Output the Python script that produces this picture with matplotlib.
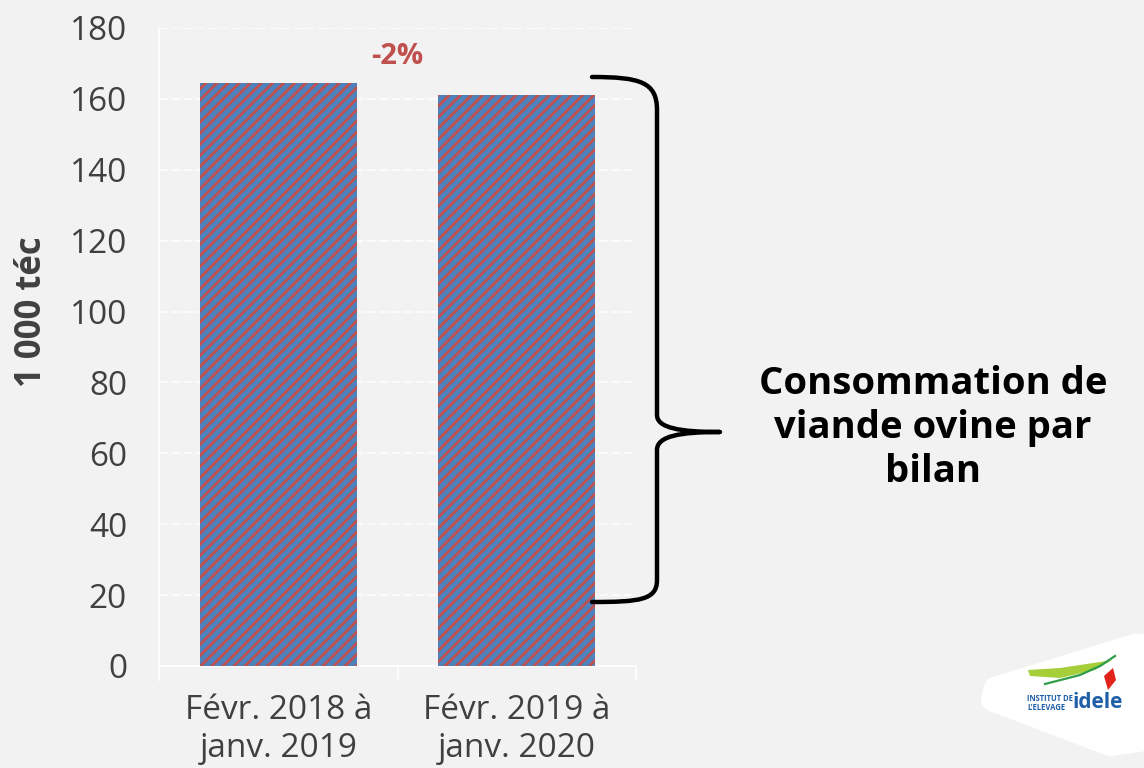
import numpy as np
import matplotlib.pyplot as plt
from matplotlib.path import Path
from matplotlib.patches import PathPatch, Polygon

# Data
periods = ['Févr. 2018 à\njanv. 2019', 'Févr. 2019 à\njanv. 2020']
conso = [164.5, 161.2]
variation = '-2%'
yticks = np.arange(0, 181, 20)

bg = '#F2F2F2'
txt = '#404040'
plt.rcParams['font.family'] = ['Open Sans', 'DejaVu Sans']
plt.rcParams['hatch.linewidth'] = 2.0

fig = plt.figure(figsize=(11.44, 7.68), dpi=100, facecolor=bg)
ax = fig.add_axes([159/1144, 1 - 666/768, 477/1144, 638/768])
ax.set_facecolor(bg)

x = np.arange(len(periods))
ax.bar(x, conso, width=0.66, color='#4F81BD', edgecolor='#C0504D',
       hatch='///', linewidth=0, zorder=3)

ax.set_xlim(-0.5, 1.5)
ax.set_ylim(0, 180)
ax.set_yticks(yticks)
ax.set_xticks(x)
ax.set_xticklabels(periods, fontsize=24, color=txt, linespacing=1.2)
ax.set_xticks([-0.5, 0.5, 1.5], minor=True)
ax.tick_params(axis='x', which='major', length=0, pad=20)
ax.tick_params(axis='x', which='minor', length=11, color='white', width=1.2)
ax.tick_params(axis='y', length=0, labelsize=24, labelcolor=txt, pad=23)
ax.grid(axis='y', color='white', linestyle=(0, (6, 2)), linewidth=1.1, zorder=0)
for s in ['top', 'right']:
    ax.spines[s].set_visible(False)
for s in ['left', 'bottom']:
    ax.spines[s].set_color('white')
    ax.spines[s].set_linewidth(1.2)

ax.set_ylabel('1 000 téc', fontsize=25, fontweight='bold', color=txt)
ax.yaxis.set_label_coords(-0.228, 0.555)

# variation label between the bars
ax.text(0.5, max(conso) + 7.5, variation, ha='center', va='center', fontsize=21,
        fontweight='bold', color='#C0504D')

# overlay in pixel coordinates for brace, text and logo
ov = fig.add_axes([0, 0, 1, 1], facecolor='none')
ov.set_xlim(0, 1144)
ov.set_ylim(768, 0)
ov.axis('off')

verts = [(592, 77), (640, 77), (657, 82), (657, 110),
         (657, 415),
         (657, 428), (680, 432), (720, 432),
         (680, 432), (657, 436), (657, 450),
         (657, 580),
         (657, 600), (640, 602), (592, 602)]
codes = [Path.MOVETO, Path.CURVE4, Path.CURVE4, Path.CURVE4,
         Path.LINETO,
         Path.CURVE4, Path.CURVE4, Path.CURVE4,
         Path.CURVE4, Path.CURVE4, Path.CURVE4,
         Path.LINETO,
         Path.CURVE4, Path.CURVE4, Path.CURVE4]
ov.add_patch(PathPatch(Path(verts, codes), fill=False, lw=3.2, color='black',
                       capstyle='round', joinstyle='round'))

ov.text(933, 428, 'Consommation de\nviande ovine par\nbilan', ha='center', va='center',
        fontsize=27.5, fontweight='bold', color='black', linespacing=1.2)

# logo
ov.add_patch(Polygon([(995, 688), (1135, 645), (1144, 645), (1144, 740), (1110, 745), (992, 700)],
                     closed=True, facecolor='white', edgecolor='white', lw=16, joinstyle='round'))
ov.fill([1028, 1060, 1100, 1112, 1095, 1060, 1030], [670, 668, 662, 660, 670, 678, 676],
        color='#A6CE39', lw=0)
ov.plot([1045, 1080, 1100, 1115], [684, 675, 666, 656], color='#2E9E48', lw=1.6)
ov.text(1027, 703, "INSTITUT DE\nL'ELEVAGE", fontsize=5.5, fontweight='bold', color='#1F5FA8',
        ha='left', va='center', linespacing=1.0)
ov.text(1072, 703, 'idele', fontsize=15, fontweight='bold', color='#1F5FA8', ha='left', va='center')
ov.add_patch(Polygon([(1104, 676), (1113, 668), (1116, 680), (1108, 690)], closed=True,
                     facecolor='#E2231A', edgecolor='none'))

fig.savefig('out.png', dpi=100, facecolor=bg)
